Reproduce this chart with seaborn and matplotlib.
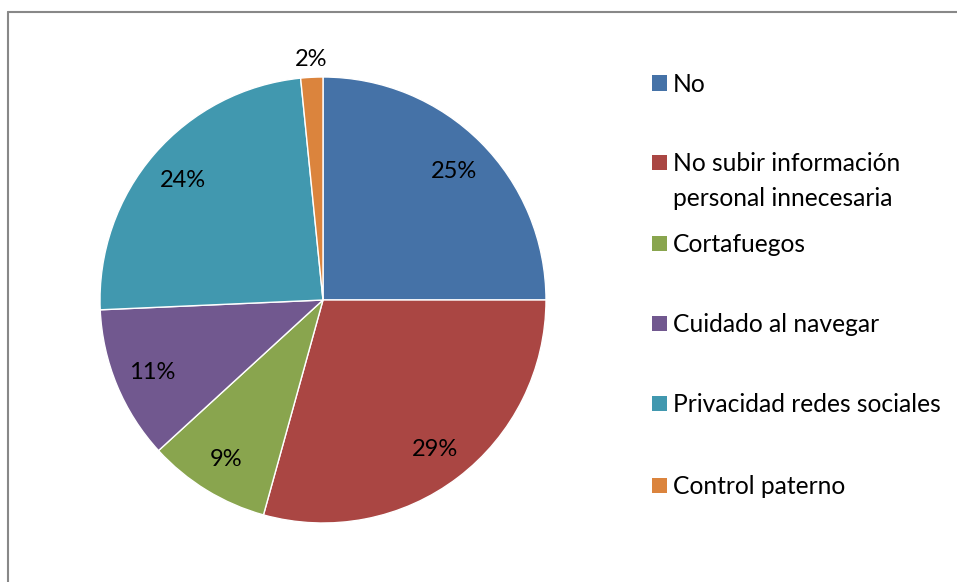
import matplotlib
matplotlib.use("Agg")
import matplotlib.pyplot as plt
import matplotlib.patches as mpatches
import seaborn as sns
import numpy as np

categories = ["No", "No subir información\npersonal innecesaria", "Cortafuegos",
              "Cuidado al navegar", "Privacidad redes sociales", "Control paterno"]
values = [25.0, 29.3, 8.9, 11.1, 24.1, 1.6]
colors = ["#4572A7", "#AA4643", "#89A54E", "#71588F", "#4198AF", "#DB843D"]

sns.set_theme(style="white")
plt.rcParams["font.family"] = ["Lato", "DejaVu Sans"]

W, H = 957, 582
fig = plt.figure(figsize=(W / 100, H / 100), dpi=100)
fig.patch.set_facecolor("white")

cx, cy, r = 323, 300, 223
ax = fig.add_axes([(cx - r) / W, 1 - (cy + r) / H, 2 * r / W, 2 * r / H])
palette = sns.color_palette(colors)
wedges, texts, autotexts = ax.pie(
    values, colors=palette, startangle=90, counterclock=False,
    autopct=lambda p: f"{p:.0f}%", pctdistance=0.83,
    wedgeprops=dict(edgecolor="white", linewidth=1),
    textprops=dict(fontsize=17, color="black"))
for t in autotexts:
    t.set_va("center_baseline")
ax.set_xlim(-1, 1)
ax.set_ylim(-1, 1)
ax.set_aspect("equal")
ax.axis("off")

# small slice label outside
w = wedges[-1]
mid = np.deg2rad((w.theta1 + w.theta2) / 2)
autotexts[-1].set_position((1.09 * np.cos(mid), 1.09 * np.sin(mid)))

# legend drawn manually
ys = [83, 162, 243, 323, 403, 485]
for lab, col, y in zip(categories, palette, ys):
    fig.add_artist(mpatches.Rectangle((652 / W, 1 - (y + 7.5) / H), 15 / W, 15 / H,
                                      transform=fig.transFigure, facecolor=col,
                                      edgecolor="none"))
    fig.text(673 / W, 1 - (y - 10) / H, lab, fontsize=17.7, va="top", ha="left",
             linespacing=1.62, color="black")

# frame border (top and left visible)
fig.add_artist(plt.Line2D([8 / W, 8 / W], [0, 1 - 12 / H], transform=fig.transFigure,
                          color="#888888", linewidth=1.5))
fig.add_artist(plt.Line2D([8 / W, 1], [1 - 12 / H, 1 - 12 / H], transform=fig.transFigure,
                          color="#888888", linewidth=1.5))

fig.savefig("out.png", dpi=100, facecolor="white")
